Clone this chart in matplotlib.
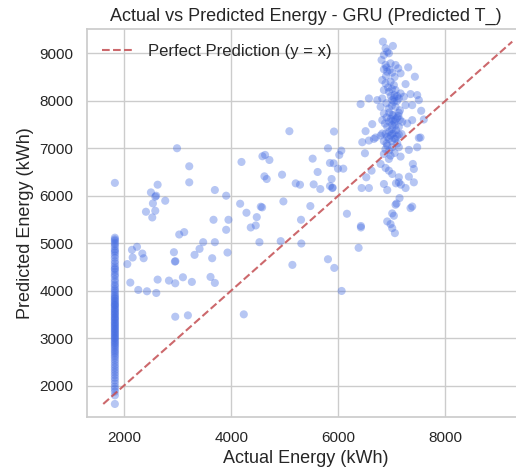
import matplotlib
matplotlib.use("Agg")
import matplotlib.pyplot as plt
import seaborn as sns
import numpy as np

# Lowest actual reading: every prediction for it lands in one vertical strip
base_actual = 1830
base_pred = [6270, 5116, 5080, 5052, 5010, 4975, 4930, 4869, 4835, 4799, 4744, 4690,
             4622, 4575, 4516, 4470, 4446, 4395, 4340, 4302, 4235, 4188, 4129, 4092,
             4038, 4004, 3962, 3918, 3884, 3851, 3827, 3790, 3766, 3731, 3702, 3688,
             3654, 3621, 3598, 3566, 3540, 3511, 3488, 3452, 3430, 3401, 3377, 3342,
             3318, 3290, 3262, 3237, 3205, 3180, 3152, 3124, 3097, 3068, 3041, 3010,
             2987, 2954, 2921, 2893, 2860, 2826, 2790, 2748, 2712, 2676, 2631, 2590,
             2538, 2487, 2431, 2380, 2326, 2274, 2220, 2163, 2108, 2046, 1979, 1930,
             1873, 1795, 1613]

# Scattered mid-range predictions
mid_actual = [2990, 3218, 3218, 2628, 2503, 2584, 2600, 2770, 2540, 2410, 2584, 2528,
              3696, 3907, 3671, 3950, 3907, 3031, 3124, 3478, 3696, 3410, 3317, 3646,
              3932, 2932, 2950, 2960, 2243, 2149, 2162, 2342, 2367, 2118, 2267, 2429,
              2603, 2628, 2839, 2957, 3100, 3267, 3615, 3696, 2957, 3193, 4236, 4193,
              4584, 4633, 4714, 5087, 4621, 4664, 4950, 5205, 5285, 5521, 5614, 5540,
              5664, 4168, 4286, 4553, 4578, 4478, 4366, 4459, 4975, 5304, 5478, 4528,
              4925, 5310, 5143, 5807, 5925, 6062, 5919, 5807, 6056, 6018, 5844, 5913,
              5994, 6093, 5875, 5844, 5888, 5895, 6161, 6422, 6379, 2062]
mid_pred = [7000, 6620, 6282, 6232, 6070, 5979, 6000, 5894, 5838, 5662, 5683, 5542,
            6120, 6000, 5493, 5493, 5282, 5183, 5233, 5021, 5021, 4880, 4754, 4683,
            4803, 4810, 4613, 4620, 4923, 4860, 4698, 4782, 4683, 4170, 4015, 3987,
            3951, 4233, 4212, 4155, 4282, 4184, 4289, 4163, 3451, 3480, 3501, 6711,
            6831, 6859, 6753, 7359, 6408, 6352, 6443, 6260, 6232, 6781, 6500, 6239,
            6141, 5831, 5641, 5768, 5754, 5549, 5331, 5373, 5880, 5493, 5782, 5021,
            5043, 4993, 4543, 4662, 4479, 3994, 7352, 7000, 6950, 6859, 6690, 6683,
            6570, 6570, 6352, 6204, 6162, 6170, 5620, 5331, 4902, 4560]

# Dense group of high actual readings
top_actual = [6832, 7019, 6882, 6913, 6944, 6851, 6807, 6882, 6975, 7068, 7118, 6851,
              6913, 7006, 7162, 7304, 7429, 6820, 6882, 6975, 7037, 7255, 6851, 6944,
              7068, 7162, 7348, 7472, 7503, 6571, 6727, 6820, 7006, 7037, 7130, 7224,
              6416, 6789, 6944, 7068, 7255, 7379, 7547, 6851, 7006, 7130, 6820, 7068,
              7193, 7100, 7596, 6509, 6633, 6913, 7006, 7130, 7286, 7379, 7534, 6820,
              6913, 7006, 7099, 6696, 6900, 6960, 7050, 6890, 6930, 7000, 7100, 6980,
              7040, 6900, 7000, 7150, 6950, 7050, 7150, 7000, 6950, 7080, 7180, 7050,
              6900, 6980, 7030, 7120, 6950, 7060, 6870, 7010, 7050, 7100]
top_pred = [9246, 9155, 9106, 9035, 9000, 8965, 8859, 8754, 8789, 8754, 8683, 8662,
            8613, 8592, 8578, 8704, 8507, 8437, 8366, 8402, 8331, 8352, 8226, 8190,
            8226, 8155, 8141, 8120, 8014, 8049, 8014, 8049, 8014, 7979, 8049, 8085,
            7930, 7873, 7838, 7873, 7908, 7908, 7789, 7733, 7698, 7747, 7592, 7606,
            7557, 7640, 7606, 7360, 7508, 7452, 7487, 7452, 7522, 7592, 7226, 7310,
            7240, 7310, 7254, 7226, 8700, 8650, 8500, 8520, 8280, 8250, 8100, 8100,
            8060, 7950, 7900, 7800, 7750, 7550, 7600, 7400, 7350, 7380, 7300, 7200,
            7650, 7620, 7700, 7680, 7560, 7480, 7520, 7580, 8120, 8000]

low_actual = [6789, 6882, 6975, 7037, 7130, 7068, 6944, 7503, 7472, 7317, 7130, 7006,
              6913, 6447, 6664, 6571, 6497, 6851, 6975, 7162, 6944, 6789, 6882, 6944,
              7006, 7130, 7391, 7410, 6621, 6522, 6851, 6913, 7317, 7410, 7255, 7130,
              6435, 6571, 7143, 7068, 7348, 7006, 7037, 6913, 6975, 7006, 7056, 7087,
              7379, 6422, 7076, 7168, 6850, 6900, 7000, 7100, 6950, 7050, 6880]
low_pred = [7268, 7303, 7268, 7317, 7289, 7197, 7197, 7218, 7021, 6965, 7021, 7021,
            7056, 7127, 7197, 7162, 6894, 6880, 6845, 6824, 6775, 6669, 6585, 6528,
            6458, 6388, 6669, 6563, 6528, 6388, 6247, 6120, 6402, 6282, 6162, 6282,
            6162, 6162, 5951, 5810, 5740, 5627, 5578, 5458, 5402, 5317, 5212, 5835,
            5772, 5362, 6261, 6233, 7150, 7100, 7150, 7100, 6950, 6900, 6980]

actual = np.array([base_actual] * len(base_pred) + mid_actual + top_actual + low_actual, dtype=float)
predicted = np.array(base_pred + mid_pred + top_pred + low_pred, dtype=float)

sns.set_theme(style="whitegrid")
plt.rcParams["font.family"] = ["Liberation Sans", "DejaVu Sans"]

fig = plt.figure(figsize=(5.16, 4.67), dpi=100)
ax = fig.add_axes([0.168, 0.1064, 0.849, 0.831])

ax.scatter(actual, predicted, s=34, color="royalblue", alpha=0.38, edgecolors="none")

lo = min(actual.min(), predicted.min())
hi = max(actual.max(), predicted.max())
ax.plot([lo, hi], [lo, hi], "r--", alpha=0.85, label="Perfect Prediction (y = x)")

ax.set_xlim(1304, 9480)
ax.set_ylim(1332, 9507)
ax.set_xticks([2000, 4000, 6000, 8000])
ax.set_yticks([2000, 3000, 4000, 5000, 6000, 7000, 8000, 9000])

ax.set_title("Actual vs Predicted Energy - GRU (Predicted T_)", fontsize=13)
ax.set_xlabel("Actual Energy (kWh)", fontsize=13)
ax.set_ylabel("Predicted Energy (kWh)", fontsize=13)
ax.tick_params(labelsize=11)
ax.legend(loc="upper left", frameon=False, fontsize=12)

fig.savefig("out.png", dpi=100)
